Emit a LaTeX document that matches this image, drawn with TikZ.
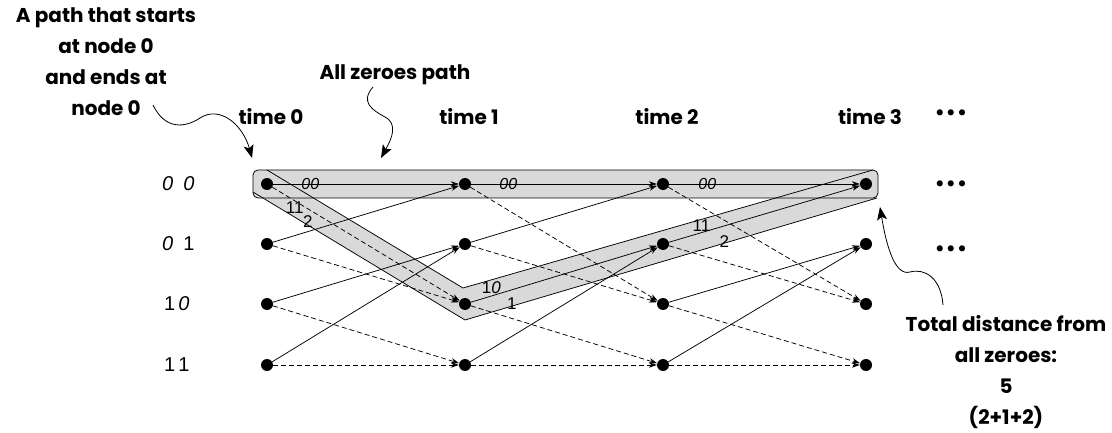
\documentclass[tikz,border=0pt]{standalone}
\usepackage{fontspec}
\setmainfont{Poppins}
\newfontfamily\digitfont{Liberation Sans}
\usetikzlibrary{positioning,arrows.meta}

\begin{document}
\begin{tikzpicture}[
  x=1pt, y=-1pt,
  state/.style={circle, fill=black, inner sep=0pt, minimum size=12pt},
  bit0/.style={-{Stealth[length=8pt,width=5.5pt]}, line width=0.75pt},
  bit1/.style={bit0, dash pattern=on 5pt off 3pt},
  note/.style={font=\bfseries\fontsize{20}{31}\selectfont, align=center, inner sep=0pt},
  codelbl/.style={font=\digitfont\itshape\fontsize{16}{18}\selectfont, inner sep=1pt},
  distlbl/.style={font=\digitfont\fontsize{17}{19}\selectfont, inner sep=1pt},
  rowlbl/.style={font=\digitfont\fontsize{20}{22}\selectfont, anchor=west, inner sep=0pt},
  callout/.style={-{Stealth[length=13pt,width=10pt,inset=3pt]}, line width=0.8pt},
  band/.style={fill=black!15}
]
\useasboundingbox (0,0) rectangle (1112,433);

% highlighted path and the all zeroes row
\fill[band] (267,170) -- (463,288) -- (873,170) -- (877,198) -- (465,320) -- (253,192) -- cycle;
\fill[band, rounded corners=5pt] (253,170) rectangle (878,198);
\draw[line width=0.75pt] (267,170) -- (463,288) -- (873,170);
\draw[line width=0.75pt] (253,192) -- (465,320) -- (877,198);
\draw[line width=0.75pt, rounded corners=5pt] (253,170) rectangle (878,198);

% states over time
\foreach \t/\x in {0/267,1/465,2/663,3/866}{
  \node[note, anchor=base] (time\t) at (\x+4,125) {time \t};
  \foreach \st/\y in {00/184,01/244,10/304,11/365}
    \node[state] (s\st-\t) at (\x,\y) {};
}
\node[rowlbl] (row00) at (162,184) {\textit{0}\enspace\textit{0}};
\node[rowlbl] (row01) at (162,244) {\textit{0}\enspace1};
\node[rowlbl] (row10) at (164,304) {1\hspace{3pt}\textit{0}};
\node[rowlbl] (row11) at (164,365) {1\hspace{3pt}1};

% transitions: solid for a 0 bit, dashed for a 1 bit
\foreach \t/\u in {0/1,1/2,2/3}
  \foreach \a/\b/\kind in {00/00/bit0,01/00/bit0,10/01/bit0,11/01/bit0,
                           00/10/bit1,01/10/bit1,10/11/bit1,11/11/bit1}
    \draw[\kind] (s\a-\t) -- (s\b-\u);

\foreach \t/\u in {0/1,1/2,2/3}
  \path (s00-\t) -- (s00-\u) node[codelbl, pos=0.2] (code\t) {00};
\path (s00-0) -- (s10-1) node[distlbl, pos=0.12, below] (codea) {11}
                         node[distlbl, pos=0.19, below=6pt] (dista) {2};
\path (s10-1) -- (s01-2) node[distlbl, pos=0.11, above=1pt] (codeb) {1\textit{0}}
                         node[distlbl, pos=0.22, below=7pt] (distb) {1};
\path (s01-2) -- (s00-3) node[distlbl, pos=0.17, above] (codec) {11}
                         node[distlbl, pos=0.29, below=9pt] (distc) {2};

% more time steps
\node[note, anchor=base] (moretime) at (951,120) {\textbullet\hspace{1pt}\textbullet\hspace{1pt}\textbullet};
\node[note, anchor=base] (more00) at (951,191) {\textbullet\hspace{1pt}\textbullet\hspace{1pt}\textbullet};
\node[note, anchor=base] (more01) at (951,255) {\textbullet\hspace{1pt}\textbullet\hspace{1pt}\textbullet};

% callouts
\node[note, anchor=north] (startnote) at (106,8) {A path that starts\\at node 0\\and ends at\\node 0};
\node[note, anchor=base] (zeronote) at (395,80) {All zeroes path};
\node[note, anchor=north] (distnote) at (1006,315) {Total distance from\\all zeroes:\\5\\(2+1+2)};

\coordinate (startnote-from) at (153,105);
\coordinate (startnote-to) at (252,158);
\coordinate (zeronote-from) at (373,87);
\coordinate (zeronote-to) at (381,158);
\coordinate (distnote-from) at (943,305);
\coordinate (distnote-to) at (880,207);
\draw[callout] (startnote-from) .. controls (165,130) and (185,128) .. (200,118)
  .. controls (220,105) and (243,125) .. (startnote-to);
\draw[callout] (zeronote-from) .. controls (360,102) and (372,110) .. (385,117)
  .. controls (398,124) and (392,138) .. (zeronote-to);
\draw[callout] (distnote-from) .. controls (941,278) and (925,268) .. (910,272)
  .. controls (896,276) and (887,250) .. (distnote-to);
\end{tikzpicture}
\end{document}
